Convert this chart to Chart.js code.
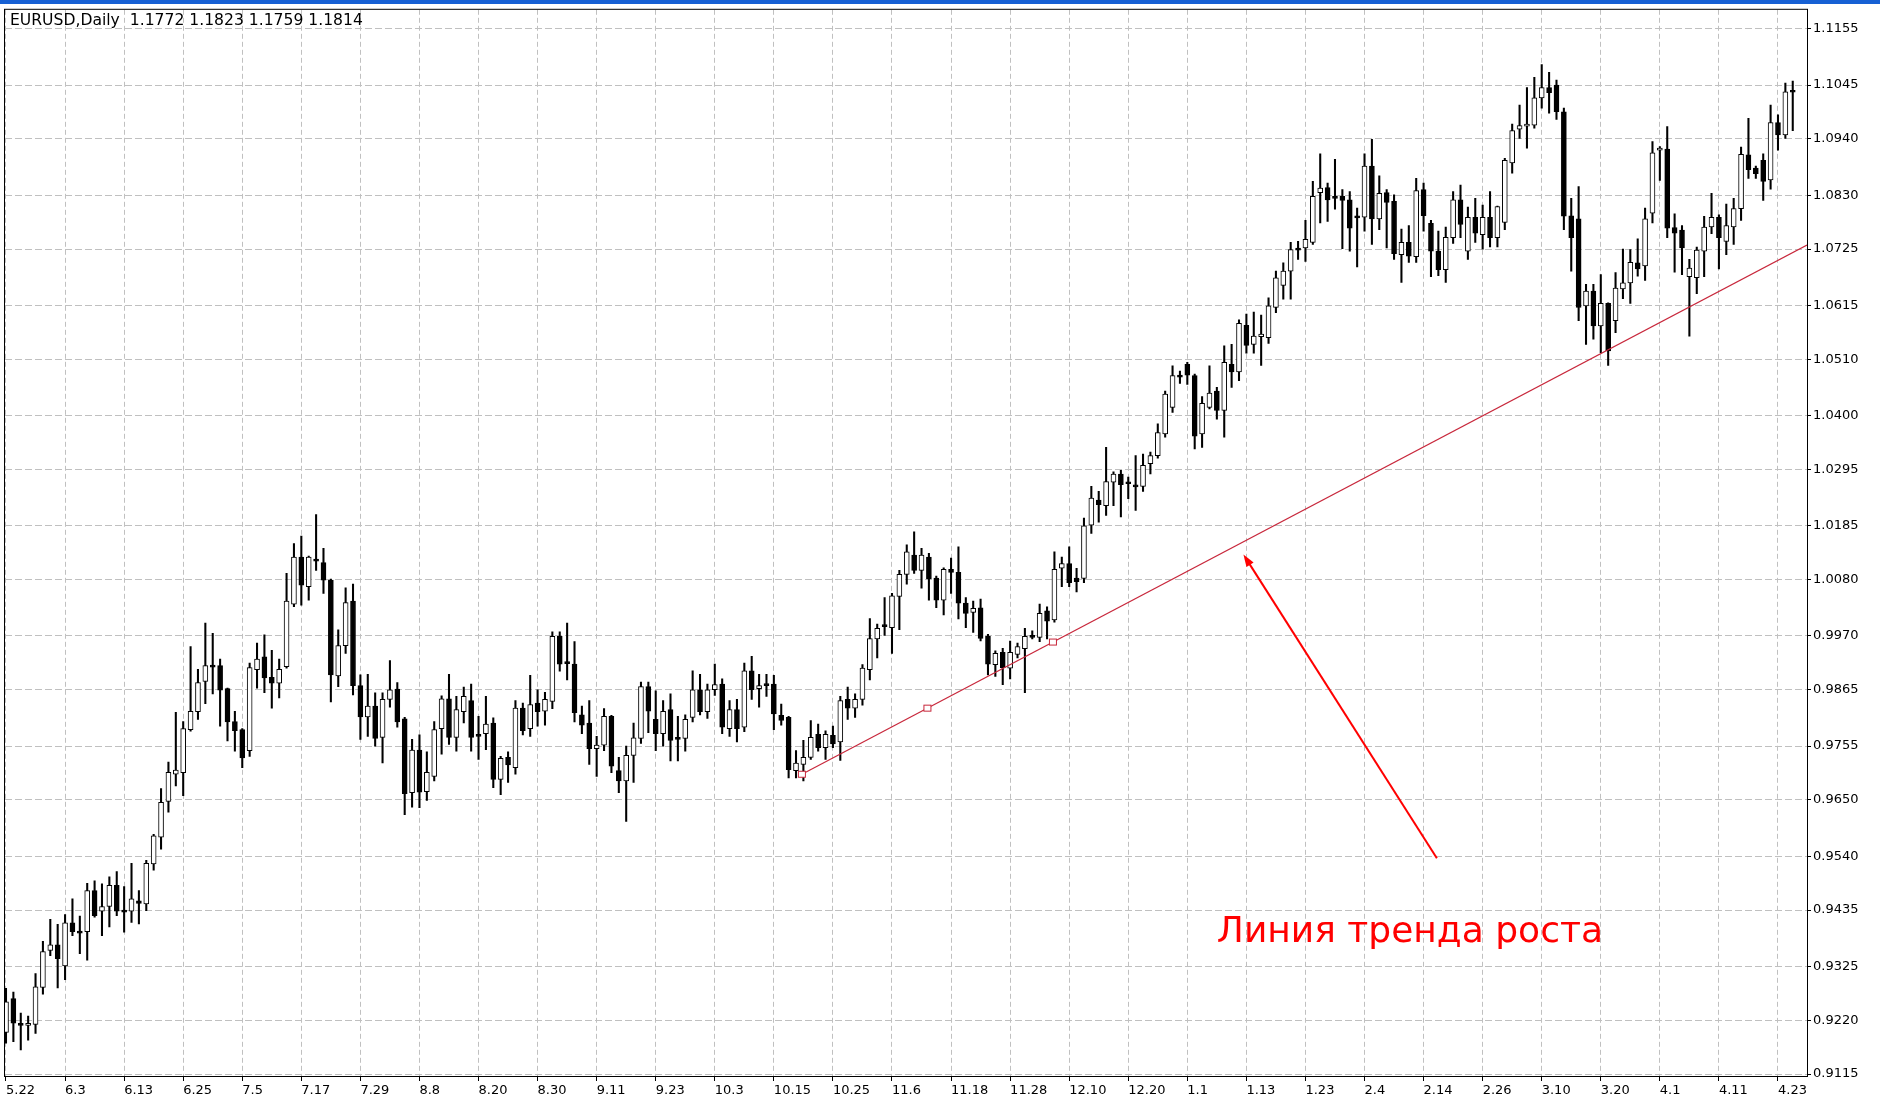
<!DOCTYPE html>
<html>
<head>
<meta charset="utf-8">
<title>EURUSD,Daily</title>
<script src="https://cdn.jsdelivr.net/npm/chart.js@4.4.1/dist/chart.umd.min.js"></script>
<style>
	html, body { margin: 0; padding: 0; background: #ffffff; }
	#wrap { position: relative; width: 1880px; height: 1105px; }
</style>
</head>
<body>
<div id="wrap"><canvas id="chart"></canvas></div>
<script>
var symbolTitle = 'EURUSD,Daily';
var lastQuote = ['1.1772', '1.1823', '1.1759', '1.1814'];

// date under every 8th bar, first one is bar 0
var dateLabels = ['5.22', '6.3', '6.13', '6.25', '7.5', '7.17', '7.29', '8.8', '8.20', '8.30',
	'9.11', '9.23', '10.3', '10.15', '10.25', '11.6', '11.18', '11.28', '12.10', '12.20',
	'1.1', '1.13', '1.23', '2.4', '2.14', '2.26', '3.10', '3.20', '4.1', '4.11', '4.23'];
var barsPerLabel = 8;

var priceTicks = [1.1155, 1.1045, 1.0940, 1.0830, 1.0725, 1.0615, 1.0510, 1.0400, 1.0295, 1.0185,
	1.0080, 0.9970, 0.9865, 0.9755, 0.9650, 0.9540, 0.9435, 0.9325, 0.9220, 0.9115];

var opens = [
	0.9196, 0.9262, 0.9212, 0.9210, 0.9212, 0.9284, 0.9356, 0.9367, 0.9326, 0.9410,
	0.9394, 0.9393, 0.9473, 0.9433, 0.9442, 0.9483, 0.9434, 0.9433, 0.9453, 0.9447,
	0.9525, 0.9577, 0.9647, 0.9700, 0.9703, 0.9787, 0.9822, 0.9881, 0.9912, 0.9912,
	0.9867, 0.9803, 0.9787, 0.9746, 0.9904, 0.9929, 0.9889, 0.9878, 0.9910, 1.0032,
	1.0124, 1.0066, 1.0119, 1.0113, 1.0079, 0.9892, 0.9951, 1.0038, 0.9873, 0.9812,
	0.9833, 0.9772, 0.9846, 0.9866, 0.9808, 0.9664, 0.9747, 0.9666, 0.9696, 0.9789,
	0.9847, 0.9772, 0.9822, 0.9844, 0.9776, 0.9779, 0.9800, 0.9690, 0.9733, 0.9713,
	0.9829, 0.9789, 0.9839, 0.9823, 0.9842, 0.9969, 0.9918, 0.9915, 0.9816, 0.9800,
	0.9750, 0.9757, 0.9813, 0.9707, 0.9687, 0.9737, 0.9770, 0.9871, 0.9807, 0.9779,
	0.9826, 0.9771, 0.9770, 0.9811, 0.9865, 0.9822, 0.9865, 0.9876, 0.9789, 0.9826,
	0.9792, 0.9902, 0.9867, 0.9876, 0.9876, 0.9815, 0.9811, 0.9707, 0.9719, 0.9733,
	0.9778, 0.9752, 0.9776, 0.9763, 0.9846, 0.9829, 0.9846, 0.9904, 0.9964, 0.9990,
	0.9986, 1.0047, 1.0090, 1.0128, 1.0098, 1.0124, 1.0083, 1.0040, 1.0100, 1.0094,
	1.0034, 1.0016, 1.0025, 0.9969, 0.9914, 0.9938, 0.9907, 0.9934, 0.9945, 0.9969,
	0.9967, 1.0019, 1.0001, 1.0102, 1.0111, 1.0083, 1.0082, 1.0186, 1.0235, 1.0224,
	1.0270, 1.0286, 1.0270, 1.0264, 1.0262, 1.0306, 1.0322, 1.0364, 1.0416, 1.0478,
	1.0500, 1.0478, 1.0364, 1.0416, 1.0448, 1.0410, 1.0500, 1.0485, 1.0576, 1.0539,
	1.0554, 1.0552, 1.0611, 1.0654, 1.0682, 1.0725, 1.0727, 1.0738, 1.0835, 1.0845,
	1.0826, 1.0828, 1.0821, 1.0789, 1.0787, 1.0887, 1.0784, 1.0835, 1.0818, 1.0714,
	1.0738, 1.0710, 1.0841, 1.0775, 1.0721, 1.0685, 1.0747, 1.0821, 1.0721, 1.0787,
	1.0753, 1.0787, 1.0747, 1.0777, 1.0893, 1.0959, 1.0965, 1.0967, 1.1020, 1.1040,
	1.1045, 1.0993, 1.0790, 1.0784, 1.0614, 1.0643, 1.0575, 1.0619, 1.0585, 1.0647,
	1.0659, 1.0698, 1.0692, 1.0795, 1.0918, 1.0920, 1.0767, 1.0762, 1.0671, 1.0669,
	1.0721, 1.0768, 1.0787, 1.0740, 1.0768, 1.0804, 1.0909, 1.0883, 1.0898, 1.0860,
	1.0972, 1.0948, 1.1034
];
var highs = [
	0.9282, 0.9275, 0.9234, 0.9228, 0.9311, 0.9374, 0.9417, 0.9407, 0.9426, 0.9457,
	0.9423, 0.9487, 0.9492, 0.9486, 0.9500, 0.9510, 0.9481, 0.9526, 0.9473, 0.9532,
	0.9583, 0.9672, 0.9724, 0.9821, 0.9803, 0.9949, 0.9905, 0.9995, 0.9975, 0.9925,
	0.9868, 0.9823, 0.9789, 0.9917, 0.9956, 0.9972, 0.9942, 0.9925, 1.0092, 1.0150,
	1.0165, 1.0126, 1.0207, 1.0141, 1.0081, 0.9982, 1.0064, 1.0071, 0.9894, 0.9895,
	0.9859, 0.9859, 0.9922, 0.9879, 0.9811, 0.9768, 0.9777, 0.9744, 0.9803, 0.9853,
	0.9895, 0.9852, 0.9870, 0.9876, 0.9813, 0.9852, 0.9810, 0.9735, 0.9744, 0.9844,
	0.9839, 0.9893, 0.9865, 0.9860, 0.9978, 0.9978, 0.9995, 0.9959, 0.9833, 0.9844,
	0.9774, 0.9828, 0.9815, 0.9733, 0.9755, 0.9800, 0.9880, 0.9880, 0.9863, 0.9844,
	0.9857, 0.9813, 0.9816, 0.9902, 0.9895, 0.9876, 0.9915, 0.9886, 0.9844, 0.9846,
	0.9917, 0.9930, 0.9895, 0.9895, 0.9893, 0.9837, 0.9813, 0.9746, 0.9766, 0.9805,
	0.9798, 0.9785, 0.9794, 0.9852, 0.9870, 0.9857, 0.9914, 1.0004, 0.9993, 1.0045,
	1.0053, 1.0098, 1.0148, 1.0173, 1.0141, 1.0131, 1.0087, 1.0103, 1.0122, 1.0144,
	1.0045, 1.0038, 1.0042, 0.9973, 0.9941, 0.9946, 0.9960, 0.9956, 0.9985, 0.9980,
	1.0032, 1.0027, 1.0134, 1.0124, 1.0144, 1.0102, 1.0200, 1.0262, 1.0252, 1.0338,
	1.0290, 1.0293, 1.0280, 1.0322, 1.0325, 1.0329, 1.0384, 1.0448, 1.0497, 1.0487,
	1.0504, 1.0481, 1.0437, 1.0497, 1.0455, 1.0536, 1.0539, 1.0587, 1.0598, 1.0602,
	1.0596, 1.0630, 1.0682, 1.0698, 1.0738, 1.0740, 1.0781, 1.0857, 1.0911, 1.0854,
	1.0900, 1.0841, 1.0837, 1.0805, 1.0911, 1.0939, 1.0868, 1.0841, 1.0831, 1.0764,
	1.0771, 1.0863, 1.0854, 1.0781, 1.0760, 1.0768, 1.0837, 1.0850, 1.0807, 1.0824,
	1.0811, 1.0837, 1.0809, 1.0902, 1.0969, 1.1006, 1.1040, 1.1060, 1.1085, 1.1070,
	1.1055, 1.1000, 1.0824, 1.0847, 1.0656, 1.0656, 1.0675, 1.0620, 1.0679, 1.0725,
	1.0724, 1.0745, 1.0805, 1.0935, 1.0925, 1.0964, 1.0794, 1.0771, 1.0705, 1.0729,
	1.0789, 1.0834, 1.0792, 1.0813, 1.0824, 1.0924, 1.0980, 1.0887, 1.0911, 1.1006,
	1.0987, 1.1049, 1.1053
];
var lows = [
	0.9175, 0.9178, 0.9162, 0.9181, 0.9194, 0.9271, 0.9346, 0.9283, 0.9299, 0.9385,
	0.9350, 0.9337, 0.9421, 0.9385, 0.9402, 0.9424, 0.9392, 0.9411, 0.9408, 0.9434,
	0.9513, 0.9554, 0.9626, 0.9677, 0.9658, 0.9784, 0.9807, 0.9838, 0.9857, 0.9794,
	0.9765, 0.9745, 0.9713, 0.9735, 0.9868, 0.9859, 0.9829, 0.9849, 0.9907, 1.0027,
	1.0030, 1.0040, 1.0098, 1.0053, 0.9841, 0.9871, 0.9936, 0.9855, 0.9768, 0.9774,
	0.9755, 0.9722, 0.9831, 0.9792, 0.9621, 0.9636, 0.9635, 0.9649, 0.9687, 0.9739,
	0.9758, 0.9745, 0.9800, 0.9745, 0.9729, 0.9748, 0.9674, 0.9660, 0.9684, 0.9700,
	0.9777, 0.9774, 0.9794, 0.9796, 0.9828, 0.9901, 0.9884, 0.9802, 0.9779, 0.9719,
	0.9696, 0.9746, 0.9703, 0.9664, 0.9608, 0.9684, 0.9760, 0.9781, 0.9746, 0.9755,
	0.9726, 0.9726, 0.9745, 0.9802, 0.9816, 0.9809, 0.9854, 0.9779, 0.9774, 0.9763,
	0.9783, 0.9846, 0.9831, 0.9852, 0.9787, 0.9796, 0.9693, 0.9693, 0.9687, 0.9729,
	0.9745, 0.9729, 0.9752, 0.9727, 0.9807, 0.9811, 0.9835, 0.9884, 0.9927, 0.9971,
	0.9936, 0.9982, 1.0071, 1.0092, 1.0063, 1.0040, 1.0025, 1.0011, 1.0053, 1.0003,
	0.9986, 0.9977, 0.9960, 0.9894, 0.9891, 0.9875, 0.9886, 0.9927, 0.9859, 0.9964,
	0.9959, 0.9964, 0.9997, 1.0066, 1.0066, 1.0056, 1.0074, 1.0170, 1.0192, 1.0205,
	1.0224, 1.0202, 1.0238, 1.0215, 1.0252, 1.0286, 1.0317, 1.0358, 1.0406, 1.0463,
	1.0461, 1.0335, 1.0338, 1.0413, 1.0393, 1.0358, 1.0455, 1.0468, 1.0522, 1.0522,
	1.0498, 1.0541, 1.0601, 1.0627, 1.0627, 1.0705, 1.0701, 1.0734, 1.0776, 1.0779,
	1.0803, 1.0726, 1.0721, 1.0690, 1.0760, 1.0734, 1.0763, 1.0727, 1.0705, 1.0660,
	1.0699, 1.0699, 1.0760, 1.0671, 1.0673, 1.0660, 1.0736, 1.0747, 1.0705, 1.0738,
	1.0725, 1.0729, 1.0729, 1.0763, 1.0873, 1.0941, 1.0922, 1.0961, 1.1000, 1.0990,
	1.0978, 1.0763, 1.0682, 1.0585, 1.0539, 1.0549, 1.0523, 1.0498, 1.0562, 1.0628,
	1.0619, 1.0672, 1.0664, 1.0776, 1.0859, 1.0747, 1.0680, 1.0675, 1.0555, 1.0638,
	1.0671, 1.0755, 1.0686, 1.0714, 1.0734, 1.0781, 1.0863, 1.0863, 1.0820, 1.0842,
	1.0918, 1.0941, 1.0956
];
var closes = [
	0.9256, 0.9214, 0.9210, 0.9212, 0.9285, 0.9354, 0.9367, 0.9340, 0.9410, 0.9393,
	0.9390, 0.9473, 0.9424, 0.9442, 0.9483, 0.9433, 0.9431, 0.9457, 0.9448, 0.9526,
	0.9580, 0.9645, 0.9704, 0.9708, 0.9789, 0.9823, 0.9879, 0.9912, 0.9909, 0.9864,
	0.9802, 0.9785, 0.9732, 0.9908, 0.9925, 0.9888, 0.9878, 0.9905, 1.0038, 1.0124,
	1.0069, 1.0124, 1.0116, 1.0079, 0.9894, 0.9951, 1.0035, 0.9873, 0.9812, 0.9833,
	0.9770, 0.9846, 0.9865, 0.9802, 0.9662, 0.9747, 0.9665, 0.9704, 0.9787, 0.9847,
	0.9772, 0.9826, 0.9852, 0.9772, 0.9774, 0.9798, 0.9690, 0.9731, 0.9718, 0.9829,
	0.9785, 0.9836, 0.9822, 0.9846, 0.9969, 0.9915, 0.9916, 0.9820, 0.9796, 0.9750,
	0.9757, 0.9813, 0.9716, 0.9687, 0.9737, 0.9771, 0.9871, 0.9823, 0.9779, 0.9823,
	0.9766, 0.9768, 0.9807, 0.9865, 0.9822, 0.9865, 0.9875, 0.9792, 0.9826, 0.9789,
	0.9902, 0.9865, 0.9873, 0.9873, 0.9818, 0.9805, 0.9709, 0.9722, 0.9733, 0.9772,
	0.9752, 0.9778, 0.9759, 0.9844, 0.9829, 0.9846, 0.9907, 0.9965, 0.9985, 0.9988,
	1.0048, 1.0090, 1.0134, 1.0098, 1.0128, 1.0081, 1.0040, 1.0100, 1.0094, 1.0034,
	1.0014, 1.0024, 0.9965, 0.9915, 0.9936, 0.9908, 0.9938, 0.9949, 0.9969, 0.9967,
	1.0014, 0.9999, 1.0100, 1.0111, 1.0074, 1.0076, 1.0185, 1.0239, 1.0226, 1.0271,
	1.0286, 1.0265, 1.0267, 1.0261, 1.0303, 1.0322, 1.0367, 1.0442, 1.0478, 1.0475,
	1.0479, 1.0360, 1.0424, 1.0444, 1.0410, 1.0504, 1.0485, 1.0580, 1.0537, 1.0555,
	1.0559, 1.0614, 1.0669, 1.0682, 1.0724, 1.0723, 1.0744, 1.0828, 1.0844, 1.0821,
	1.0824, 1.0820, 1.0766, 1.0786, 1.0887, 1.0784, 1.0834, 1.0816, 1.0716, 1.0738,
	1.0711, 1.0839, 1.0790, 1.0721, 1.0685, 1.0748, 1.0821, 1.0773, 1.0787, 1.0756,
	1.0787, 1.0747, 1.0808, 1.0898, 1.0956, 1.0966, 1.0966, 1.1020, 1.1040, 1.1030,
	1.0993, 1.0789, 1.0747, 1.0611, 1.0643, 1.0575, 1.0619, 1.0526, 1.0649, 1.0659,
	1.0699, 1.0686, 1.0784, 1.0913, 1.0921, 1.0766, 1.0756, 1.0727, 1.0688, 1.0723,
	1.0768, 1.0787, 1.0747, 1.0771, 1.0804, 1.0910, 1.0880, 1.0872, 1.0857, 1.0972,
	1.0948, 1.1032, 1.1031
];

var wickData = [], bodyData = [], bodyFill = [];
for (var i = 0; i < opens.length; i++) {
	wickData.push({x: i, y: [lows[i], highs[i]]});
	bodyData.push({x: i, y: [opens[i], closes[i]]});
	bodyFill.push(closes[i] >= opens[i] ? '#ffffff' : '#000000');
}

function fitFont(ctx, text, family, width) {
	ctx.font = '100px ' + family;
	var size = 100 * width / ctx.measureText(text).width;
	return size.toFixed(1) + 'px ' + family;
}

function drawArrow(ctx, x1, y1, x2, y2, head) {
	var a = Math.atan2(y2 - y1, x2 - x1);
	ctx.beginPath();
	ctx.moveTo(x1, y1);
	ctx.lineTo(x2 - Math.cos(a) * head * 0.7, y2 - Math.sin(a) * head * 0.7);
	ctx.stroke();
	ctx.beginPath();
	ctx.moveTo(x2, y2);
	ctx.lineTo(x2 - head * Math.cos(a - 0.33), y2 - head * Math.sin(a - 0.33));
	ctx.lineTo(x2 - head * Math.cos(a + 0.33), y2 - head * Math.sin(a + 0.33));
	ctx.closePath();
	ctx.fill();
}

var mt4Decor = {
	id: 'mt4Decor',
	beforeDraw: function(chart) {
		var ctx = chart.ctx;
		ctx.save();
		ctx.fillStyle = '#ffffff';
		ctx.fillRect(0, 0, chart.width, chart.height);
		ctx.fillStyle = '#1660d4';
		ctx.fillRect(0, 0, chart.width, 4);
		ctx.restore();
	},
	afterDatasetsDraw: function(chart, args, opts) {
		var ctx = chart.ctx, area = chart.chartArea;
		var xs = chart.scales.x, ys = chart.scales.y;
		var t = opts.trend;
		var x1 = xs.getPixelForValue(t.from[0]), y1 = ys.getPixelForValue(t.from[1]);
		var x2 = xs.getPixelForValue(t.to[0]), y2 = ys.getPixelForValue(t.to[1]);
		var yEnd = y1 + (area.right - x1) * (y2 - y1) / (x2 - x1);

		ctx.save();
		ctx.beginPath();
		ctx.rect(area.left, area.top, area.right - area.left, area.bottom - area.top);
		ctx.clip();

		// trend line as a ray to the right edge
		ctx.strokeStyle = t.color;
		ctx.lineWidth = 1.2;
		ctx.beginPath();
		ctx.moveTo(x1, y1);
		ctx.lineTo(area.right, yEnd);
		ctx.stroke();

		ctx.lineWidth = 1;
		[[x1, y1], [(x1 + x2) / 2, (y1 + y2) / 2], [x2, y2]].forEach(function(p) {
			ctx.fillStyle = '#ffffff';
			ctx.fillRect(p[0] - 3.5, p[1] - 3, 7, 6);
			ctx.strokeRect(p[0] - 3.5, p[1] - 3, 7, 6);
		});

		var a = opts.arrow;
		ctx.strokeStyle = a.color;
		ctx.fillStyle = a.color;
		ctx.lineWidth = 2;
		drawArrow(ctx,
			xs.getPixelForValue(a.from[0]), ys.getPixelForValue(a.from[1]),
			xs.getPixelForValue(a.to[0]), ys.getPixelForValue(a.to[1]), 13);

		var n = opts.note;
		ctx.font = fitFont(ctx, n.text, '"DejaVu Sans"', n.width);
		ctx.fillStyle = n.color;
		ctx.textBaseline = 'alphabetic';
		ctx.textAlign = 'left';
		ctx.fillText(n.text, xs.getPixelForValue(n.at[0]), ys.getPixelForValue(n.at[1]));
		ctx.restore();
	},
	afterDraw: function(chart, args, opts) {
		var ctx = chart.ctx, area = chart.chartArea;
		ctx.save();
		ctx.strokeStyle = '#000000';
		ctx.lineWidth = 1;
		ctx.strokeRect(area.left - 0.5, area.top - 0.5, area.right - area.left + 1, area.bottom - area.top + 1);

		var header = symbolTitle + '  ' + lastQuote.join(' ');
		ctx.font = fitFont(ctx, header, '"DejaVu Sans"', 352);
		ctx.fillStyle = '#000000';
		ctx.textBaseline = 'alphabetic';
		ctx.fillText(header, 10, 25);
		ctx.restore();
	}
};

var ctx = document.getElementById('chart').getContext('2d');
var chart = new Chart(ctx, {
	type: 'bar',
	data: {
		datasets: [
			{
				label: 'body',
				data: bodyData,
				backgroundColor: bodyFill,
				borderColor: '#000000',
				borderWidth: 1,
				borderSkipped: false,
				barThickness: 5,
				minBarLength: 2,
				grouped: false,
				clip: 0,
				order: 0
			},
			{
				label: 'wick',
				data: wickData,
				backgroundColor: '#000000',
				borderWidth: 0,
				barThickness: 1.4,
				grouped: false,
				clip: 0,
				order: 1
			}
		]
	},
	options: {
		responsive: true,
		maintainAspectRatio: false,
		devicePixelRatio: 1,
		animation: false,
		events: [],
		layout: { padding: { left: 5, top: 6, right: 0, bottom: 0 } },
		plugins: {
			legend: { display: false },
			tooltip: { enabled: false },
			mt4Decor: {
				trend: { from: [107.8, 0.9700], to: [141.8, 0.9958], color: '#c8283c' },
				arrow: { from: [193.8, 0.9536], to: [167.6, 1.0129], color: '#ff0000' },
				note: { text: 'Линия тренда роста', at: [164.0, 0.9372], width: 386, color: '#ff0000' }
			}
		},
		scales: {
			x: {
				type: 'linear',
				offset: false,
				min: -0.1354,
				max: 243.93,
				afterBuildTicks: function(scale) {
					scale.ticks = dateLabels.map(function(d, k) { return {value: k * barsPerLabel}; });
				},
				afterFit: function(scale) { scale.height = 29; },
				ticks: {
					autoSkip: false,
					maxRotation: 0,
					align: 'start',
					padding: 2,
					color: '#000000',
					font: { family: 'DejaVu Sans', size: 13 },
					callback: function(value, index) { return dateLabels[index]; }
				},
				grid: { offset: false, color: '#c0c0c0', lineWidth: 1, tickLength: 5, tickColor: '#000000', borderDash: [5, 3] },
				border: { display: false, dash: [5, 3] }
			},
			y: {
				type: 'linear',
				position: 'right',
				min: 0.911111,
				max: 1.119195,
				afterBuildTicks: function(scale) {
					scale.ticks = priceTicks.map(function(v) { return {value: v}; });
				},
				afterFit: function(scale) { scale.width = 73; },
				ticks: {
					padding: 2,
					color: '#000000',
					font: { family: 'DejaVu Sans', size: 13 },
					callback: function(value) { return value.toFixed(4); }
				},
				grid: { color: '#c0c0c0', lineWidth: 1, tickLength: 4, tickColor: '#000000', borderDash: [7, 3] },
				border: { display: false, dash: [7, 3] }
			}
		}
	},
	plugins: [mt4Decor]
});
</script>
</body>
</html>
